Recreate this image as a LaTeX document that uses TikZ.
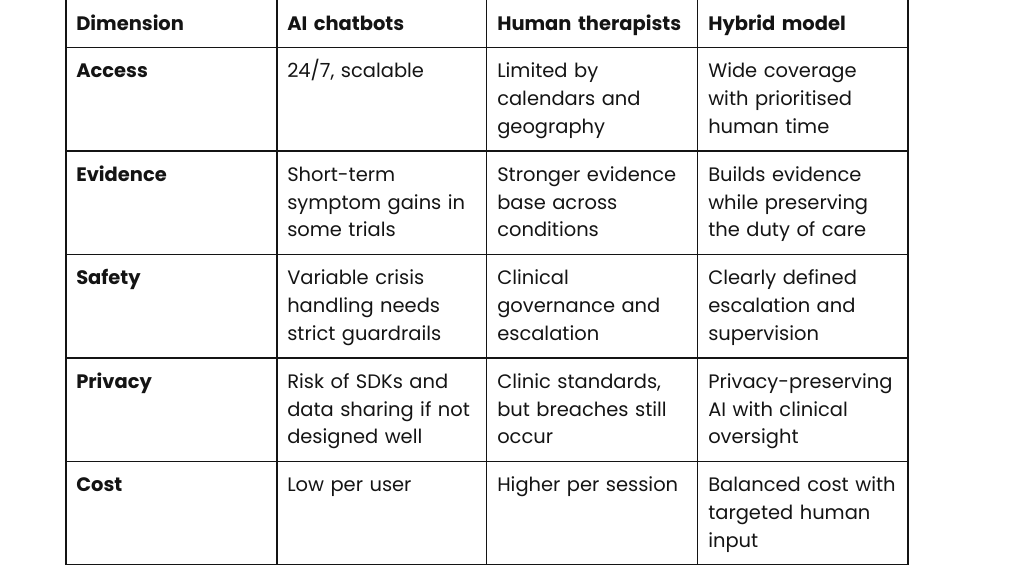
\documentclass[tikz,border=0pt]{standalone}
\usepackage{fontspec}
\setmainfont{Poppins}
\usetikzlibrary{positioning}
\definecolor{ink}{HTML}{141414}

\begin{document}
\begin{tikzpicture}[x=0.75pt, y=-0.75pt,
    every node/.style={anchor=north west, inner sep=0pt, align=left, text=ink,
      text width=150pt, font=\fontsize{14.6pt}{20.8pt}\selectfont,
      execute at begin node=\strut},
    head/.style={font=\fontsize{14.6pt}{20.8pt}\selectfont\bfseries},
    grid/.style={ink, line width=0.8pt}]
        \useasboundingbox (0,0) rectangle (1024,575);

        % Header row
        \node[head] (dim) at (76,10.6) {Dimension};
        \node[head] (ai)  at (287,10.6) {AI chatbots};
        \node[head] (hum) at (497,10.6) {Human therapists};
        \node[head] (hyb) at (708,10.6) {Hybrid model};

        % Access
        \node[head] (acc) at (76,58.1) {Access};
        \node (acc-ai)  at (287,58.1) {24/7, scalable};
        \node (acc-hum) at (497,58.1) {Limited by\\calendars and\\geography};
        \node (acc-hyb) at (708,58.1) {Wide coverage\\with prioritised\\human time};

        % Evidence
        \node[head] (evi) at (76,161.6) {Evidence};
        \node (evi-ai)  at (287,161.6) {Short-term\\symptom gains in\\some trials};
        \node (evi-hum) at (497,161.6) {Stronger evidence\\base across\\conditions};
        \node (evi-hyb) at (708,161.6) {Builds evidence\\while preserving\\the duty of care};

        % Safety
        \node[head] (saf) at (76,265.1) {Safety};
        \node (saf-ai)  at (287,265.1) {Variable crisis\\handling needs\\strict guardrails};
        \node (saf-hum) at (497,265.1) {Clinical\\governance and\\escalation};
        \node (saf-hyb) at (708,265.1) {Clearly defined\\escalation and\\supervision};

        % Privacy
        \node[head] (pri) at (76,368.6) {Privacy};
        \node (pri-ai)  at (287,368.6) {Risk of SDKs and\\data sharing if not\\designed well};
        \node (pri-hum) at (497,368.6) {Clinic standards,\\but breaches still\\occur};
        \node (pri-hyb) at (708,368.6) {Privacy-preserving\\AI with clinical\\oversight};

        % Cost
        \node[head] (cos) at (76,472.1) {Cost};
        \node (cos-ai)  at (287,472.1) {Low per user};
        \node (cos-hum) at (497,472.1) {Higher per session};
        \node (cos-hyb) at (708,472.1) {Balanced cost with\\targeted human\\input};

        % Rules
        \draw[grid] (66,0) -- (66,564.5);
        \draw[grid] (277,0) -- (277,564.5);
        \draw[grid] (486.5,0) -- (486.5,564.5);
        \draw[grid] (697.5,0) -- (697.5,564.5);
        \draw[grid] (908,0) -- (908,564.5);
        \draw[grid] (66,47.5) -- (908,47.5);
        \draw[grid] (66,151) -- (908,151);
        \draw[grid] (66,254.5) -- (908,254.5);
        \draw[grid] (66,358) -- (908,358);
        \draw[grid] (66,461.5) -- (908,461.5);
        \draw[grid] (66,564.5) -- (908,564.5);
\end{tikzpicture}
\end{document}
